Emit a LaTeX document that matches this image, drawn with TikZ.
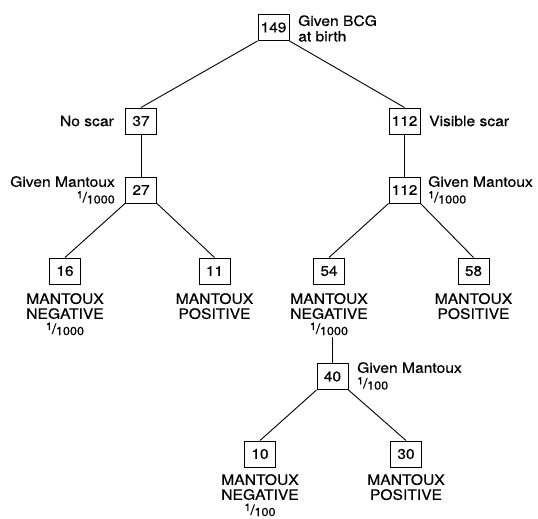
\documentclass[tikz,border=0pt]{standalone}
\usepackage{fontspec}
\setmainfont{TeX Gyre Heros}[FakeStretch=1.1, FakeBold=0.4]
\usetikzlibrary{positioning}
\newcommand{\fr}[2]{\raisebox{4pt}{\fontsize{10}{10}\selectfont #1}\kern-0.2pt/\kern-0.3pt\raisebox{-1.2pt}{\fontsize{11.5}{11.5}\selectfont #2}}
\begin{document}
\begin{tikzpicture}[x=1pt,y=-1pt,
  numbox/.style={draw, line width=1pt, minimum width=31pt, minimum height=26pt, inner sep=0pt, font=\fontsize{14}{15}\selectfont},
  lab/.style={inner sep=0pt, font=\fontsize{14.2}{15.5}\selectfont},
  leaflab/.style={inner sep=0pt, align=center, anchor=north, font=\fontsize{14.2}{15}\selectfont},
  edge/.style={line width=0.9pt}]
\useasboundingbox (0,0) rectangle (538,519);
% boxes
\node[numbox] (a)   at (273.5,27.5) {149};
\node[numbox] (b)   at (141,121) {37};
\node[numbox] (c)   at (404.5,121) {112};
\node[numbox] (d)   at (141,190) {27};
\node[numbox] (e)   at (404.5,190) {112};
\node[numbox] (f)   at (65,271) {16};
\node[numbox] (g)   at (214.5,271) {11};
\node[numbox] (h)   at (329,271) {54};
\node[numbox] (i)   at (473.5,271) {58};
\node[numbox] (j)   at (332.5,376.5) {40};
\node[numbox] (k)   at (260,454) {10};
\node[numbox] (l)   at (406,454) {30};
% side labels
\node[lab, anchor=west, align=left] (la) at (298,28.5) {Given BCG\\at birth};
\node[lab, anchor=east] (lb) at (114,121) {No scar};
\node[lab, anchor=west] (lc) at (429,121) {Visible scar};
\node[lab, anchor=north east, align=right] (ld) at (115,176) {Given Mantoux\\\fr{1}{1000}};
\node[lab, anchor=north west, align=left] (le) at (428,176) {Given Mantoux\\\fr{1}{1000}};
\node[lab, anchor=north west, align=left] (lj) at (357,362) {Given Mantoux\\\fr{1}{100}};
% leaf labels
\node[leaflab] (lf) at (65,293) {MANTOUX\\NEGATIVE\\\fr{1}{1000}};
\node[leaflab] (lg) at (214.5,293) {MANTOUX\\POSITIVE};
\node[leaflab] (lh) at (329,293) {MANTOUX\\NEGATIVE\\\fr{1}{1000}};
\node[leaflab] (li) at (473.5,293) {MANTOUX\\POSITIVE};
\node[leaflab] (lk) at (260,474) {MANTOUX\\NEGATIVE\\\fr{1}{100}};
\node[leaflab] (ll) at (406,474) {MANTOUX\\POSITIVE};
% connectors
\coordinate (hj) at (j.north |- lh.south);
\draw[edge] ([yshift=-2pt]hj) -- (j.north);
\draw[edge] (a.south west) -- (b.north);
\draw[edge] (a.south east) -- (c.north);
\draw[edge] (b.south) -- (d.north);
\draw[edge] (c.south) -- (e.north);
\draw[edge] (d.south west) -- (f.north);
\draw[edge] (d.south east) -- (g.north);
\draw[edge] (e.south west) -- (h.north);
\draw[edge] (e.south east) -- (i.north);
\draw[edge] (j.south west) -- (k.north);
\draw[edge] (j.south east) -- (l.north);
\end{tikzpicture}
\end{document}
